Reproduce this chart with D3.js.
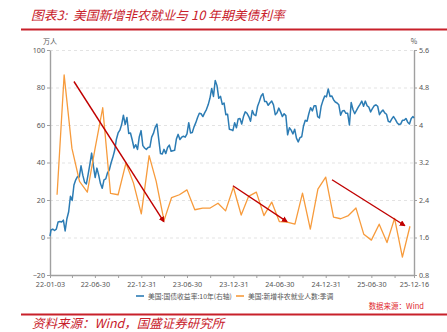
<!DOCTYPE html>
<html>
<head>
<meta charset="utf-8">
<script src="https://cdn.jsdelivr.net/npm/d3@7"></script>
<style>
  html, body { margin: 0; padding: 0; background: #fff; }
  svg { display: block; font-family: "Noto Sans CJK SC", "Noto Sans", sans-serif; }
  .pre { white-space: pre; }
</style>
</head>
<body>
<div id="chart"></div>
<script>
// ---- data ----
// 10Y US Treasury yield (%), weekly closes: first trading day, every Friday, last day
const yieldFirst = { date: "2022-01-03", value: 1.63 };
const yieldLast = { date: "2025-12-16", value: 4.15 };
const yield2022 = [1.76,1.78,1.75,1.78, 1.93,1.94,1.93,1.97, 1.74,2.00,2.15,2.48, 2.39,2.72,2.83,2.90,2.89,
  3.13,2.93,2.78,2.74, 2.94,3.16,3.40,3.13, 2.88,3.08,2.93,2.75,2.65, 2.83,2.85,2.98,3.04,
  3.19,3.31,3.45,3.69,3.83, 3.89,4.01,4.21,4.01, 4.16,3.82,3.83,3.68, 3.51,3.58,3.48,3.75,3.88];
const yield2023 = [3.56,3.51,3.48,3.52, 3.53,3.74,3.82,3.95, 4.02,3.70,3.39,3.38,3.48, 3.39,3.52,3.57,3.44,
  3.45,3.46,3.70,3.80, 3.69,3.74,3.76,3.74,3.81, 4.05,3.83,3.84,3.96, 4.05,4.16,4.25,4.24,
  4.18,4.26,4.33,4.43,4.57, 4.78,4.61,4.95,4.84, 4.57,4.61,4.44,4.47, 4.22,4.23,3.91,3.90,3.88];
const yield2024 = [4.05,3.94,4.13,4.14, 4.02,4.18,4.28,4.25, 4.18,4.08,4.31,4.22,4.20, 4.40,4.50,4.62,4.67,
  4.50,4.50,4.42,4.47,4.51, 4.43,4.22,4.26,4.36, 4.28,4.18,4.24,4.20, 3.79,3.94,3.89,3.81,3.91,
  3.72,3.64,3.73,3.75, 3.98,4.10,4.08,4.24, 4.37,4.30,4.41,4.41,4.18, 4.15,4.40,4.52,4.62];
const yield2025 = [4.60,4.77,4.61,4.62,4.54, 4.49,4.47,4.43,4.21, 4.30,4.31,4.25,4.25, 4.00,4.48,4.33,4.24,
  4.31,4.38,4.44,4.51,4.40, 4.51,4.41,4.38,4.28, 4.35,4.41,4.43,4.40, 4.22,4.28,4.32,4.26,4.23,
  4.08,4.06,4.13,4.18, 4.12,4.05,4.01,4.02,4.10, 4.10,4.14,4.06,4.02, 4.14,4.18];

// US nonfarm payrolls, monthly change, SA (10k persons), Jan 2022 .. Nov 2025
const payrollStartMonth = "2022-01";
const payrolls = [
  22.8, 86.7, 47.5, 29.9, 24.2, 47.0, 69.2, 23.5, 22.8, 39.7, 29.0, 12.6,
  43.7, 29.9, 9.0, 21.3, 22.8, 25.4, 14.8, 15.7, 15.7, 18.3, 14.2, 26.8,
  12.0, 21.9, 24.2, 11.7, 18.9, 8.5, 8.2, 7.1, 23.7, 4.5, 25.8, 32.2,
  10.9, 10.0, 11.7, 15.7, 1.7, -1.4, 7.1, -2.7, 10.2, -10.5, 6.0
];

// trend arrows on the payroll series: [start date, start value, end date, end value]
const trendArrows = [
  ["2022-04-08", 83.2, "2023-03-30", 8.5],
  ["2023-12-29", 27.6, "2024-07-30", 8.5],
  ["2025-01-25", 30.8, "2025-11-09", 6.4]
];

const leftTicks = [-20, 0, 20, 40, 60, 80, 100];
const rightTicks = [0.8, 1.6, 2.4, 3.2, 4, 4.8, 5.6];

const titleText = "图表3:  美国新增非农就业与 10 年期美债利率";
const sourceText = "资料来源：Wind，国盛证券研究所";
const dataSourceText = "数据来源：Wind";
const legendYield = "美国:国债收益率:10年(右轴)";
const legendPayroll = "美国:新增非农就业人数:季调";
const leftUnit = "万人";
const rightUnit = "%";

// ---- build series ----
const parse = d3.timeParse("%Y-%m-%d");
const fridays = d3.timeFriday.range(new Date(2022, 0, 7), new Date(2025, 11, 13));
const weeklyValues = [].concat(yield2022, yield2023, yield2024, yield2025);
const yieldSeries = [{ date: parse(yieldFirst.date), value: yieldFirst.value }]
  .concat(fridays.map((d, i) => ({ date: d, value: weeklyValues[i] })))
  .concat([{ date: parse(yieldLast.date), value: yieldLast.value }]);

const pStart = d3.timeParse("%Y-%m")(payrollStartMonth);
const payrollSeries = payrolls.map((v, i) => ({
  date: d3.timeDay.offset(d3.timeMonth.offset(pStart, i + 1), -1), value: v
}));

// ---- layout ----
const W = 447, H = 332;
const plot = { left: 50, right: 414, top: 50, bottom: 275 };
const red = "#C8202A";

const svg = d3.select("#chart").append("svg").attr("width", W).attr("height", H);

const x = d3.scaleTime()
  .domain([parse(yieldFirst.date), parse(yieldLast.date)])
  .range([plot.left, plot.right]);
const yL = d3.scaleLinear().domain([-20, 100]).range([plot.bottom, plot.top]);
const yR = d3.scaleLinear().domain([0.8, 5.6]).range([plot.bottom, plot.top]);

// title and rules
svg.append("text").attr("class", "pre").attr("x", 31).attr("y", 20)
  .attr("fill", red).attr("font-size", 12.8).attr("font-style", "italic")
  .text(titleText);
svg.append("line").attr("x1", 21).attr("x2", W).attr("y1", 29.5).attr("y2", 29.5)
  .attr("stroke", red).attr("stroke-width", 1.8);
svg.append("line").attr("x1", 21).attr("x2", W).attr("y1", 314.5).attr("y2", 314.5)
  .attr("stroke", red).attr("stroke-width", 1.8);
svg.append("text").attr("x", 32).attr("y", 327.5)
  .attr("fill", red).attr("font-size", 12.5).attr("font-style", "italic")
  .text(sourceText);

// gridlines
svg.append("g").selectAll("line")
  .data(leftTicks.filter(t => t > -20))
  .join("line")
  .attr("x1", plot.left).attr("x2", plot.right)
  .attr("y1", d => yL(d) + 0.5).attr("y2", d => yL(d) + 0.5)
  .attr("stroke", "#DCDCDC").attr("stroke-width", 0.8).attr("stroke-dasharray", "3,3");

// axes
const axisColor = "#A0A0A0";
const labelColor = "#555";
function styleAxis(g) {
  g.select(".domain").attr("stroke", axisColor).attr("stroke-width", 1.4);
  g.selectAll(".tick line").attr("stroke", axisColor).attr("stroke-width", 1);
  g.selectAll(".tick text").attr("fill", labelColor).attr("font-size", 7.2)
    .attr("font-family", "'Noto Sans', 'Noto Sans CJK SC', sans-serif");
}

svg.append("g").attr("transform", `translate(${plot.left},0)`)
  .call(d3.axisLeft(yL).tickValues(leftTicks).tickSize(3).tickPadding(2).tickSizeOuter(0))
  .call(styleAxis);

svg.append("g").attr("transform", `translate(${plot.right},0)`)
  .call(d3.axisRight(yR).tickValues(rightTicks).tickSize(3).tickPadding(2).tickSizeOuter(0)
    .tickFormat(d => String(+d.toFixed(1))))
  .call(styleAxis);

// x axis: quarter-end ticks, labelled every half year plus the two ends
const quarterEnds = d3.timeMonth.range(new Date(2022, 3, 1), new Date(2025, 10, 1), 3)
  .map(d => d3.timeDay.offset(d, -1));
const xTicks = [x.domain()[0]].concat(quarterEnds, [x.domain()[1]]);
const fmt = d3.timeFormat("%y-%m-%d");
const labelled = d => {
  const m = d.getMonth();
  return +d === +x.domain()[0] || +d === +x.domain()[1] || m === 5 || m === 11;
};
svg.append("g").attr("transform", `translate(0,${plot.bottom})`)
  .call(d3.axisBottom(x).tickValues(xTicks).tickSize(3).tickPadding(4).tickSizeOuter(0)
    .tickFormat(d => labelled(d) ? fmt(d) : ""))
  .call(styleAxis);

// units
svg.append("text").attr("x", plot.left).attr("y", 44).attr("text-anchor", "middle")
  .attr("fill", labelColor).attr("font-size", 7).text(leftUnit);
svg.append("text").attr("x", plot.right).attr("y", 44).attr("text-anchor", "middle")
  .attr("fill", labelColor).attr("font-size", 7).text(rightUnit);

// series
const blue = "#2C7CB4", orange = "#F79B3C";
svg.append("path").datum(yieldSeries)
  .attr("fill", "none").attr("stroke", blue).attr("stroke-width", 1.5)
  .attr("stroke-linejoin", "round")
  .attr("d", d3.line().x(d => x(d.date)).y(d => yR(d.value)));

svg.append("path").datum(payrollSeries)
  .attr("fill", "none").attr("stroke", orange).attr("stroke-width", 1.3)
  .attr("stroke-linejoin", "round")
  .attr("d", d3.line().x(d => x(d.date)).y(d => yL(d.value)));

// trend arrows
const arrowRed = "#C00000";
svg.append("defs").append("marker")
  .attr("id", "arrowhead").attr("viewBox", "0 0 10 10")
  .attr("refX", 8).attr("refY", 5)
  .attr("markerWidth", 6).attr("markerHeight", 6)
  .attr("markerUnits", "userSpaceOnUse")
  .attr("orient", "auto")
  .append("path").attr("d", "M0,0 L10,5 L0,10 Z").attr("fill", arrowRed);

svg.append("g").selectAll("line")
  .data(trendArrows)
  .join("line")
  .attr("x1", d => x(parse(d[0]))).attr("y1", d => yL(d[1]))
  .attr("x2", d => x(parse(d[2]))).attr("y2", d => yL(d[3]))
  .attr("stroke", arrowRed).attr("stroke-width", 1.4)
  .attr("marker-end", "url(#arrowhead)");

// legend
const legend = svg.append("g").attr("font-size", 6.8).attr("fill", labelColor);
[[legendYield, blue, 136], [legendPayroll, orange, 236]].forEach(([t, c, lx]) => {
  legend.append("line").attr("x1", lx).attr("x2", lx + 8).attr("y1", 296).attr("y2", 296)
    .attr("stroke", c).attr("stroke-width", 1.6);
  legend.append("text").attr("x", lx + 12).attr("y", 298.5).text(t);
});

svg.append("text").attr("x", 424).attr("y", 309).attr("text-anchor", "end")
  .attr("fill", "#E0262C").attr("font-size", 7.5).text(dataSourceText);
</script>
</body>
</html>
